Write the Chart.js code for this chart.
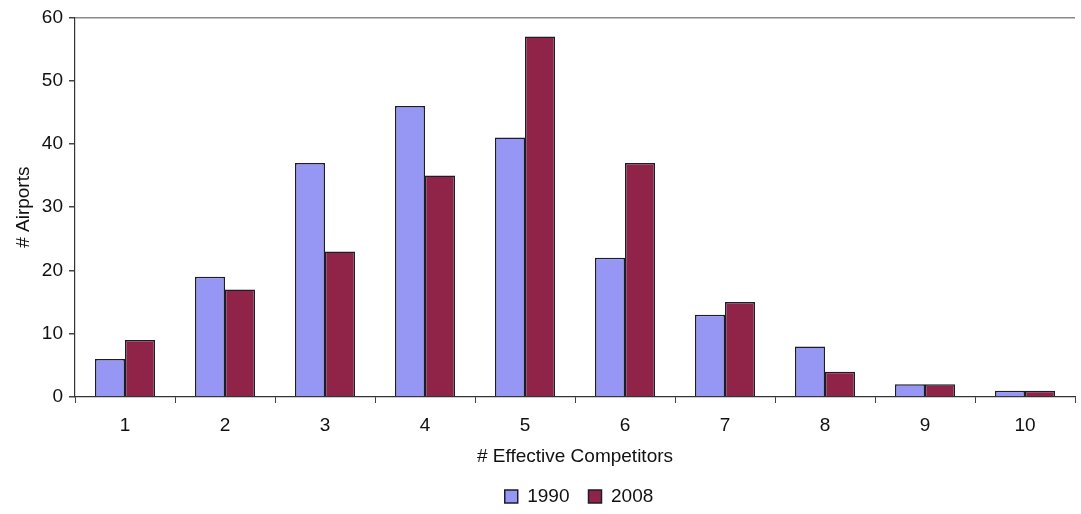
<!DOCTYPE html>
<html>
<head>
<meta charset="utf-8">
<script src="https://cdn.jsdelivr.net/npm/chart.js@4.4.0/dist/chart.umd.min.js"></script>
<style>
  html, body { margin: 0; padding: 0; background: #fff; }
  #wrap { width: 1081px; height: 514px; position: relative; }
</style>
</head>
<body>
<div id="wrap"><canvas id="c"></canvas></div>
<script>
const categories = ['1', '2', '3', '4', '5', '6', '7', '8', '9', '10'];
const series1990 = [6, 19, 37, 46, 41, 22, 13, 8, 2, 1];
const series2008 = [9, 17, 23, 35, 57, 37, 15, 4, 2, 1];
const seriesNames = ['1990', '2008'];
const xTitle = '# Effective Competitors';
const yTitle = '# Airports';

const FONT = "'Liberation Sans', Arial, sans-serif";
Chart.defaults.font.family = FONT;
Chart.defaults.color = '#111';

// Center the legend under the plot area (as in the reference) rather than the canvas.
const legendUnderPlot = {
  id: 'legendUnderPlot',
  afterLayout(chart) {
    const lg = chart.legend, ca = chart.chartArea;
    if (!lg || !ca) return;
    const dx = (ca.left + ca.right) / 2 - (lg.left + lg.right) / 2 + 4;
    lg.left += dx; lg.right += dx;
  }
};

new Chart(document.getElementById('c'), {
  type: 'bar',
  data: {
    labels: categories,
    datasets: [
      { label: seriesNames[0], data: series1990, backgroundColor: '#9696f4', borderColor: '#1c1c2a', borderWidth: 1.5, categoryPercentage: 0.6, barPercentage: 1.0 },
      { label: seriesNames[1], data: series2008, backgroundColor: '#8f2448', borderColor: '#1c1c2a', borderWidth: 1.5, categoryPercentage: 0.6, barPercentage: 1.0 }
    ]
  },
  plugins: [legendUnderPlot],
  options: {
    responsive: true,
    maintainAspectRatio: false,
    animation: false,
    layout: { padding: { left: 0, right: 6, top: 17, bottom: -2 } },
    plugins: {
      legend: {
        position: 'bottom',
        labels: { boxWidth: 13, boxHeight: 13, padding: 19, font: { size: 19 }, color: '#111' }
      },
      tooltip: { enabled: false }
    },
    scales: {
      x: {
        grid: { display: true, drawOnChartArea: false, tickLength: 6, tickColor: '#444', offset: true },
        border: { display: true, color: '#333', width: 1.2 },
        ticks: { font: { size: 19 }, padding: 11, color: '#111', maxRotation: 0 },
        title: { display: true, text: xTitle, font: { size: 19 }, color: '#111', padding: { top: 8, bottom: 0 } },
        afterFit: (s) => { s.height = 71; }
      },
      y: {
        min: 0, max: 60,
        grid: {
          display: true, drawOnChartArea: true, tickLength: 6,
          color: (ctx) => (ctx.tick && ctx.tick.value === 60) ? '#8a8a8a' : 'rgba(0,0,0,0)',
          tickColor: '#444', lineWidth: 1.5
        },
        border: { display: true, color: '#333', width: 1.2 },
        ticks: { stepSize: 10, font: { size: 19 }, padding: 6, color: '#111' },
        title: { display: true, text: yTitle, font: { size: 19 }, color: '#111', padding: { top: 12, bottom: 8 } },
        afterFit: (s) => { s.width = 75; }
      }
    }
  }
});
</script>
</body>
</html>
